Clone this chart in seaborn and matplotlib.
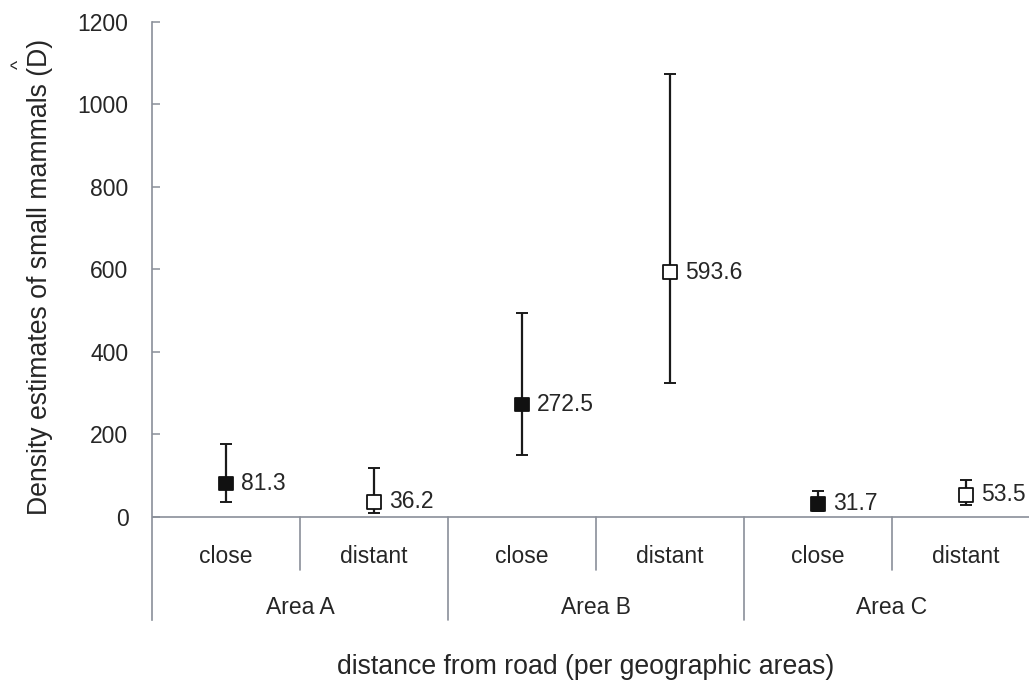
import pandas as pd
import numpy as np
import seaborn as sns
import matplotlib.pyplot as plt

# data
areas = ['Area A', 'Area B', 'Area C']
distances = ['close', 'distant']
density = [81.3, 36.2, 272.5, 593.6, 31.7, 53.5]
upper = [177, 118, 494, 1074, 64, 90]
lower = [36, 9, 150, 324, 15, 29]
value_labels = ['81.3', '36.2', '272.5', '593.6', '31.7', '53.5']
yticks = [0, 200, 400, 600, 800, 1000, 1200]

sns.set_theme(style='white')
plt.rcParams['font.family'] = ['Liberation Sans', 'DejaVu Sans']
txt = '#262626'
gray = '#8a8f99'

df = pd.DataFrame({
    'pos': np.arange(6),
    'density': density,
    'distance': distances * 3,
    'area': np.repeat(areas, 2),
})

fig = plt.figure(figsize=(10.29, 6.83), dpi=100)
ax = fig.add_axes([152/1029, 63/683, 888/1029, 598/683])

yerr = [np.array(density) - np.array(lower), np.array(upper) - np.array(density)]
ax.errorbar(df['pos'], df['density'], yerr=yerr, fmt='none', ecolor='#1a1a1a',
            elinewidth=1.6, capsize=4, capthick=1.4, zorder=2)
sns.scatterplot(data=df, x='pos', y='density', hue='distance', style='distance',
                markers={'close': 's', 'distant': 's'},
                palette={'close': '#111111', 'distant': 'white'},
                edgecolor='#111111', linewidth=1.3, s=95, legend=False,
                ax=ax, zorder=3)

for p, v, lab in zip(df['pos'], density, value_labels):
    ax.text(p + 0.1, v, lab, fontsize=16.5, color=txt, va='center', ha='left')

ax.set_xlim(-0.5, 5.5)
ax.set_ylim(-250, 1200)
ax.set_yticks(yticks)
ax.set_xticks([])
ax.set_xlabel('')
ax.set_ylabel('')
for s in ['top', 'right', 'bottom']:
    ax.spines[s].set_visible(False)
ax.spines['left'].set_color(gray)
ax.spines['left'].set_linewidth(1.2)
ax.tick_params(axis='y', direction='in', length=6, width=1.1, color=gray,
               labelsize=16.5, labelcolor=txt, pad=17, left=True)
ax.axhline(0, color=gray, lw=1.2, zorder=1)

# category table below the axis
for i in range(6):
    ax.text(i, -97, distances[i % 2], fontsize=16.5, color=txt, ha='center', va='center')
for j, a in enumerate(areas):
    ax.text(2 * j + 0.5, -220, a, fontsize=16.5, color=txt, ha='center', va='center')
for b in [0.5, 2.5, 4.5]:
    ax.plot([b, b], [0, -128], color=gray, lw=1.2, clip_on=False)
for b in [1.5, 3.5, 5.5]:
    ax.plot([b, b], [0, -250], color=gray, lw=1.2, clip_on=False)

fig.text(586/1029, 1 - 667/683, 'distance from road (per geographic areas)',
         fontsize=19.2, color=txt, ha='center', va='center')
fig.text(40/1029, 1 - 277/683, 'Density estimates of small mammals (D)',
         fontsize=19.2, color=txt, ha='center', va='center', rotation=90)
fig.text(19/1029, 1 - 64/683, '^', fontsize=14, color=txt, ha='center',
         va='center', rotation=90)

fig.savefig('out.png', dpi=100, facecolor='white')
